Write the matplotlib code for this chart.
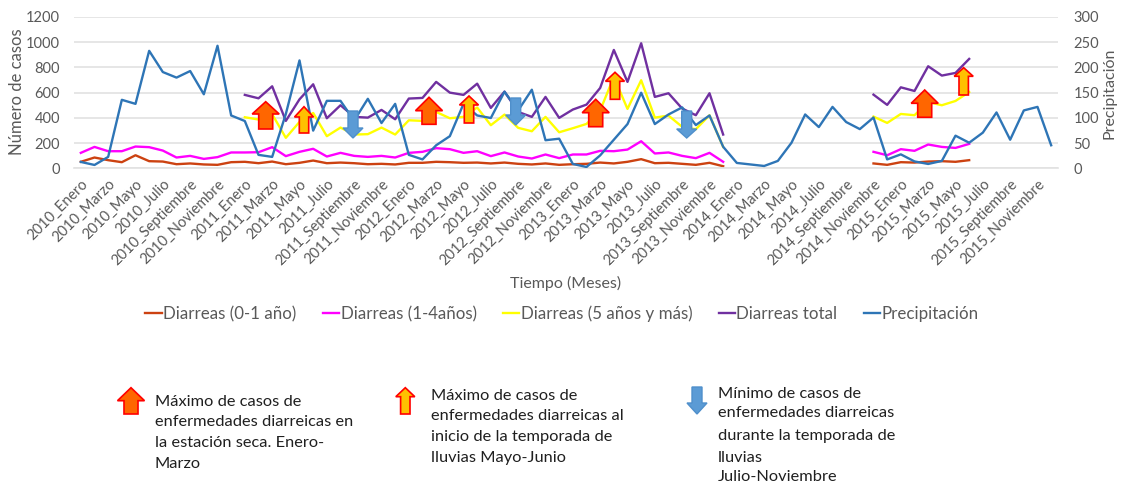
import matplotlib
matplotlib.use("Agg")
import matplotlib.pyplot as plt
from matplotlib.patches import Polygon
import numpy as np

plt.rcParams['font.family'] = ['Lato', 'DejaVu Sans']

years = [2010, 2011, 2012, 2013, 2014, 2015]
months = ["Enero", "Febrero", "Marzo", "Abril", "Mayo", "Junio", "Julio", "Agosto",
          "Septiembre", "Octubre", "Noviembre", "Diciembre"]
categories = [f"{y}_{m}" for y in years for m in months]

d01_a = [53,87,66,50,105,58,55,34,40,32,29,50,53,42,55,34,45,63,42,47,42,34,37,32,
         45,45,53,50,45,47,40,47,37,32,40,29,34,37,47,40,53,74,42,45,37,29,45,18]
d01_b = [40,29,50,47,55,58,53,66]
d14_a = [124,171,137,137,174,169,142,87,100,76,90,127,127,129,169,98,132,156,95,124,100,92,100,87,
         124,132,161,153,124,137,98,127,95,79,111,82,111,111,140,137,150,216,119,127,100,82,124,53]
d14_b = [132,105,153,140,190,171,163,195]
d5_a = [406,388,430,243,369,440,256,324,269,272,324,269,
        382,377,448,398,409,483,343,427,322,295,409,287,319,353,461,725,472,699,403,419,330,311,422,171]
d5_b = [411,361,432,422,527,501,535,606]
dt_a = [583,556,651,377,548,667,398,501,409,403,464,390,
        554,559,686,601,583,672,480,609,448,409,567,401,467,506,638,939,686,992,567,596,475,422,596,269]
dt_b = [585,504,643,614,810,736,757,868]
precip = [13,7,23,136,128,233,191,180,193,147,243,105,94,27,23,108,214,75,134,134,95,138,90,128,
          27,18,46,64,128,105,100,152,115,156,56,59,9,3,26,57,88,150,88,107,121,86,105,43,
          11,8,5,15,51,107,82,122,92,78,101,18,28,14,9,15,65,51,71,111,57,115,122,46]

def build(a_start, a, b_start, b, total=72):
    out = [np.nan] * total
    for i, v in enumerate(a):
        out[a_start + i] = v
    for i, v in enumerate(b):
        out[b_start + i] = v
    return out

W, H = 1121, 484
fig = plt.figure(figsize=(W / 100, H / 100), dpi=100)
L, R, T, B = 74, 1058, 17, 168.5
ax = fig.add_axes([L / W, 1 - B / H, (R - L) / W, (B - T) / H])
ax2 = ax.twinx()
x = np.arange(72)
TC = "#595959"
c01, c14, c5, ct, cp = "#CC4211", "#FF00FF", "#FFFF00", "#7030A0", "#2E75B6"
lw = 1.7
l1, = ax.plot(x, build(0, d01_a, 58, d01_b), color=c01, lw=lw, label="Diarreas (0-1 año)")
l2, = ax.plot(x, build(0, d14_a, 58, d14_b), color=c14, lw=lw, label="Diarreas (1-4años)")
l3, = ax.plot(x, build(12, d5_a, 58, d5_b), color=c5, lw=lw, label="Diarreas (5 años y más)")
l4, = ax.plot(x, build(12, dt_a, 58, dt_b), color=ct, lw=lw, label="Diarreas total")
l5, = ax2.plot(x, precip, color=cp, lw=lw, label="Precipitación")

ax.set_xlim(-0.5, 71.5)
ax.set_ylim(0, 1200)
ax2.set_ylim(0, 300)
ax.set_yticks(range(0, 1201, 200))
ax2.set_yticks(range(0, 301, 50))
ax.set_xticks(x[::2])
ax.set_xticklabels(categories[::2], rotation=45, ha='right', rotation_mode='anchor',
                   fontsize=10.5, color=TC)
ax.tick_params(axis='x', length=0, pad=6)
ax.tick_params(axis='y', length=0, labelsize=10.5, labelcolor=TC, pad=10)
ax2.tick_params(axis='y', length=0, labelsize=10.5, labelcolor=TC, pad=11)
ax.grid(axis='y', color="#E2E2E2", lw=1.2)
ax.set_axisbelow(True)
for a in (ax, ax2):
    for s in a.spines.values():
        s.set_visible(False)
ax.spines['bottom'].set_visible(True)
ax.spines['bottom'].set_color("#E2E2E2")
ax.spines['bottom'].set_linewidth(1.2)

ax.set_ylabel("Número de casos", fontsize=12, color=TC, va='center')
ax.yaxis.set_label_coords((17 - L) / (R - L), (B - 92) / (B - T))
ax2.set_ylabel("Precipitación", fontsize=11.5, color=TC, va='center')
ax2.yaxis.set_label_coords((1109 - L) / (R - L), (B - 93) / (B - T))
ax.set_xlabel("Tiempo (Meses)", fontsize=11.5, color=TC)
ax.xaxis.set_label_coords((566 - L) / (R - L), (B - 283) / (B - T))
ax.xaxis.label.set_verticalalignment('center')

fig.legend(handles=[l1, l2, l3, l4, l5], ncol=5, frameon=False, fontsize=12.2,
           loc='center', bbox_to_anchor=(562 / W, 1 - 314 / H), handlelength=0.95,
           handletextpad=0.1, columnspacing=1.55, labelcolor=TC)

ov = fig.add_axes([0, 0, 1, 1], zorder=10)
ov.set_xlim(0, W)
ov.set_ylim(H, 0)
ov.axis('off')
ov.patch.set_alpha(0)

ORANGE, AMBER, BLUE, RED = "#FF6600", "#FFC000", "#5B9BD5", "#FF0000"

def up(cx, tip, wing, bot, hw, sw, fc):
    ov.add_patch(Polygon([(cx, tip), (cx + hw, wing), (cx + sw, wing), (cx + sw, bot),
                          (cx - sw, bot), (cx - sw, wing), (cx - hw, wing)],
                         closed=True, fc=fc, ec=RED, lw=1.2))

def down(cx, top, wing, tip, hw, sw):
    ov.add_patch(Polygon([(cx - sw, top), (cx + sw, top), (cx + sw, wing), (cx + hw, wing),
                          (cx, tip), (cx - hw, wing), (cx - sw, wing)],
                         closed=True, fc=BLUE, ec="#4F8FCB", lw=1.0))

for cx, tip, wing, bot in [(265.7, 101.7, 114, 129), (429, 97.3, 110.7, 124.3),
                           (595.7, 99.3, 112.7, 126.7), (924.7, 90, 103.3, 117.3),
                           (131, 387.7, 400.7, 414)]:
    up(cx, tip, wing, bot, 13.5, 7, ORANGE)
for cx, tip, wing, bot in [(304, 106.7, 117, 133), (469, 96, 105, 123),
                           (615, 72.3, 81.3, 99.3), (963.7, 67.7, 76.3, 95),
                           (405.3, 387.7, 396.7, 414)]:
    up(cx, tip, wing, bot, 9.5, 4.7, AMBER)
for cx, top, wing, tip in [(353, 111, 128, 138), (515.7, 98, 115, 125),
                           (686.7, 111, 129, 138), (697, 387, 403, 414)]:
    down(cx, top, wing, tip, 10, 5)

notes = [
    (155, [(402, "Máximo de casos de"), (422, "enfermedades diarreicas en"),
           (443, "la estación seca. Enero-"), (464, "Marzo")]),
    (431, [(396, "Máximo de casos de"), (416, "enfermedades diarreicas al"),
           (437, "inicio de la temporada de"), (458, "lluvias Mayo-Junio")]),
    (718, [(394, "Mínimo de casos de"), (413, "enfermedades diarreicas"),
           (436, "durante la temporada de"), (458, "lluvias"), (477, "Julio-Noviembre")]),
]
for nx, rows in notes:
    for ny, s in rows:
        ov.text(nx, ny, s, fontsize=11.8, color="#1F1F1F", ha='left', va='center')

fig.savefig("out.png", dpi=100)
